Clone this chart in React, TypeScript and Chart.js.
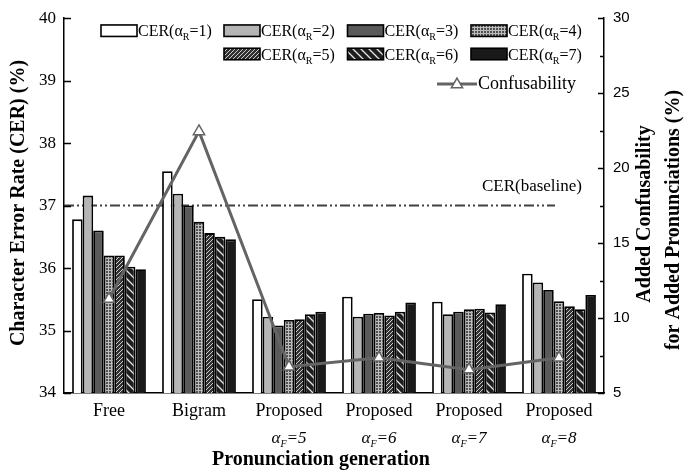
import React, { useEffect, useRef } from 'react';
import { Chart, registerables } from 'chart.js';
Chart.register(...registerables);

// ---------- data ----------
const categories = ['Free', 'Bigram', 'Proposed', 'Proposed', 'Proposed', 'Proposed'];
const alphaF = ['', '', '5', '6', '7', '8'];
const alphaR = ['1', '2', '3', '4', '5', '6', '7'];
const cer1 = [36.78, 37.55, 35.5, 35.54, 35.46, 35.91];
const cer2 = [37.16, 37.19, 35.22, 35.22, 35.26, 35.77];
const cer3 = [36.6, 37.0, 35.08, 35.27, 35.3, 35.65];
const cer4 = [36.2, 36.74, 35.17, 35.28, 35.34, 35.47];
const cer5 = [36.2, 36.56, 35.18, 35.24, 35.35, 35.39];
const cer6 = [36.02, 36.5, 35.26, 35.3, 35.29, 35.34];
const cer7 = [35.98, 36.46, 35.3, 35.45, 35.42, 35.57];
const confusability = [11.27, 22.45, 6.75, 7.35, 6.56, 7.35];
const baselineCER = 37;
const cerMin = 34, cerMax = 40;
const confMin = 5, confMax = 30;

const SERIF = "'Liberation Serif', 'Times New Roman', serif";
const SANS = "'Liberation Sans', Arial, sans-serif";
const LINE_GRAY = '#646464';

function makePattern(kind: string): CanvasPattern | string {
  const c = document.createElement('canvas');
  const g = c.getContext('2d')!;
  if (kind === 'grid') {
    c.width = 3; c.height = 3;
    g.fillStyle = '#505050'; g.fillRect(0, 0, 3, 3);
    g.fillStyle = '#bdbdbd'; g.fillRect(0, 0, 3, 1); g.fillRect(0, 0, 1, 3);
  } else if (kind === 'fwd') {
    const s = 4;
    c.width = s; c.height = s;
    g.fillStyle = '#303030'; g.fillRect(0, 0, s, s);
    g.strokeStyle = '#cfcfcf'; g.lineWidth = 1;
    g.beginPath();
    g.moveTo(-1, s + 1); g.lineTo(s + 1, -1);
    g.moveTo(-1, 1); g.lineTo(1, -1);
    g.moveTo(s - 1, s + 1); g.lineTo(s + 1, s - 1);
    g.stroke();
  } else if (kind === 'back') {
    const s = 8;
    c.width = s; c.height = s;
    g.fillStyle = '#1e1e1e'; g.fillRect(0, 0, s, s);
    g.strokeStyle = '#e6e6e6'; g.lineWidth = 1.3;
    g.beginPath();
    g.moveTo(-1, -1); g.lineTo(s + 1, s + 1);
    g.moveTo(s - 1, -1); g.lineTo(s + 1, 1);
    g.moveTo(-1, s - 1); g.lineTo(1, s + 1);
    g.stroke();
  }
  return g.createPattern(c, 'repeat')!;
}

type Run = { t: string; font: string; dy: number };
function runsWidth(ctx: CanvasRenderingContext2D, runs: Run[]) {
  let w = 0;
  for (const r of runs) { ctx.font = r.font; w += ctx.measureText(r.t).width; }
  return w;
}
function drawRuns(ctx: CanvasRenderingContext2D, x: number, base: number, runs: Run[]) {
  let cx = x;
  ctx.textAlign = 'left';
  ctx.textBaseline = 'alphabetic';
  for (const r of runs) {
    ctx.font = r.font;
    ctx.fillText(r.t, cx, base + r.dy);
    cx += ctx.measureText(r.t).width;
  }
  return cx;
}
function cerRuns(n: string): Run[] {
  const f = `16px ${SERIF}`;
  return [
    { t: 'CER(α', font: f, dy: 0 },
    { t: 'R', font: `10px ${SERIF}`, dy: 4 },
    { t: '=' + n + ')', font: f, dy: 0 },
  ];
}

function triangle(ctx: CanvasRenderingContext2D, x: number, y: number, r: number) {
  ctx.beginPath();
  for (let k = 0; k < 3; k++) {
    const a = (k * 2 * Math.PI) / 3;
    const px = x + Math.sin(a) * r, py = y - Math.cos(a) * r;
    if (k === 0) ctx.moveTo(px, py); else ctx.lineTo(px, py);
  }
  ctx.closePath();
  ctx.fillStyle = '#fff'; ctx.fill();
  ctx.strokeStyle = LINE_GRAY; ctx.lineWidth = 1.5; ctx.stroke();
}

const overlay = {
  id: 'overlay',
  beforeDatasetsDraw(chart: any) {
    const ctx: CanvasRenderingContext2D = chart.ctx;
    const y = chart.scales.y;
    const py = y.getPixelForValue(baselineCER);
    ctx.save();
    ctx.strokeStyle = '#404040';
    ctx.lineWidth = 2;
    ctx.setLineDash([10, 3, 2, 3, 2, 3]);
    ctx.beginPath();
    ctx.moveTo(chart.chartArea.left, py);
    ctx.lineTo(555, py);
    ctx.stroke();
    ctx.restore();
  },
  afterDraw(chart: any) {
    const ctx: CanvasRenderingContext2D = chart.ctx;
    const { y, y2, x } = chart.scales;
    ctx.save();
    ctx.fillStyle = '#000';
    // inward tick marks
    ctx.strokeStyle = '#000';
    ctx.lineWidth = 1.5;
    ctx.beginPath();
    y.ticks.forEach((_t: any, i: number) => {
      const p = Math.round(y.getPixelForTick(i)) + 0.5;
      ctx.moveTo(y.right, p); ctx.lineTo(y.right + 7, p);
    });
    y2.ticks.forEach((t: any, i: number) => {
      const p = Math.round(y2.getPixelForTick(i)) + 0.5;
      ctx.moveTo(y2.left, p); ctx.lineTo(y2.left - 6, p);
      if (i < y2.ticks.length - 1) {
        const m = Math.round(y2.getPixelForValue(t.value + 2.5)) + 0.5;
        ctx.moveTo(y2.left, m); ctx.lineTo(y2.left - 4, m);
      }
    });
    ctx.stroke();

    // second line of x labels
    x.ticks.forEach((_t: any, i: number) => {
      if (!alphaF[i]) return;
      const runs: Run[] = [
        { t: 'α', font: `italic 17px ${SERIF}`, dy: 0 },
        { t: 'F', font: `italic 10px ${SERIF}`, dy: 4 },
        { t: '=' + alphaF[i], font: `italic 17px ${SERIF}`, dy: 0 },
      ];
      const w = runsWidth(ctx, runs);
      drawRuns(ctx, x.getPixelForTick(i) - w / 2, 443, runs);
    });

    // baseline label
    ctx.font = `17px ${SERIF}`;
    ctx.textAlign = 'right';
    ctx.textBaseline = 'middle';
    ctx.fillText('CER(baseline)', 582, 187);

    // axis titles
    ctx.font = `bold 20px ${SERIF}`;
    ctx.textAlign = 'center';
    ctx.textBaseline = 'middle';
    ctx.fillText('Pronunciation generation', 321, 460);
    const vtext = (t: string, cx: number, cy: number) => {
      ctx.save();
      ctx.translate(cx, cy);
      ctx.rotate(-Math.PI / 2);
      ctx.fillText(t, 0, 0);
      ctx.restore();
    };
    vtext('Character Error Rate (CER) (%)', 19, 203);
    vtext('Added Confusability', 645, 214);
    vtext('for Added Pronunciations (%)', 674, 220);

    // legend
    const colX = [101, 224, 347.5, 471];
    const rowC = [30.7, 54];
    const slots = [[0, 0], [0, 1], [0, 2], [0, 3], [1, 1], [1, 2], [1, 3]];
    chart.data.datasets.forEach((ds: any, i: number) => {
      if (i >= 7) return;
      const [r, c] = slots[i];
      const bx = colX[c], cy = rowC[r];
      ctx.fillStyle = ds.backgroundColor;
      ctx.fillRect(bx, cy - 5.75, 36, 11.5);
      ctx.strokeStyle = '#000'; ctx.lineWidth = 1.6;
      ctx.strokeRect(bx, cy - 5.75, 36, 11.5);
      ctx.fillStyle = '#000';
      drawRuns(ctx, bx + 37, cy + 5.5, cerRuns(alphaR[i]));
    });
    // confusability legend
    ctx.strokeStyle = LINE_GRAY; ctx.lineWidth = 3;
    ctx.beginPath(); ctx.moveTo(437, 84); ctx.lineTo(477, 84); ctx.stroke();
    triangle(ctx, 457, 84.5, 6.5);
    ctx.fillStyle = '#000';
    ctx.font = `18px ${SERIF}`;
    ctx.textAlign = 'left';
    ctx.textBaseline = 'middle';
    ctx.fillText('Confusability', 478, 84);
    ctx.restore();
  },
};

export default function App() {
  const ref = useRef<HTMLCanvasElement>(null);
  useEffect(() => {
    const canvas = ref.current!;
    const fills = ['#ffffff', '#b5b5b5', '#5a5a5a', makePattern('grid'), makePattern('fwd'), makePattern('back'), '#1a1a1a'];
    const series = [cer1, cer2, cer3, cer4, cer5, cer6, cer7];
    const barSets = series.map((d, i) => ({
      type: 'bar' as const,
      label: `CER(αR=${alphaR[i]})`,
      data: d,
      yAxisID: 'y',
      backgroundColor: fills[i],
      borderColor: '#000',
      borderWidth: 1.8,
      borderSkipped: false,
      barPercentage: 1,
      categoryPercentage: 0.82,
      order: 1,
    }));
    const chart = new Chart(canvas, {
      type: 'bar',
      data: {
        labels: categories,
        datasets: [
          ...barSets,
          {
            type: 'line' as const,
            label: 'Confusability',
            data: confusability,
            yAxisID: 'y2',
            borderColor: LINE_GRAY,
            borderWidth: 3,
            pointStyle: 'triangle',
            pointRadius: 6.5,
            pointBackgroundColor: '#fff',
            pointBorderColor: LINE_GRAY,
            pointBorderWidth: 1.5,
            tension: 0,
            order: 0,
          } as any,
        ],
      },
      options: {
        responsive: false,
        animation: false,
        layout: { padding: { top: 14, left: 0, right: 0, bottom: 0 } },
        plugins: { legend: { display: false }, tooltip: { enabled: false } },
        scales: {
          x: {
            type: 'category',
            offset: true,
            grid: { display: false, drawTicks: false },
            border: { display: true, color: '#000', width: 1.5 },
            ticks: { color: '#000', font: { family: SERIF, size: 18 }, padding: 7, maxRotation: 0, autoSkip: false },
            afterFit: (s: any) => { s.height = 79; },
          },
          y: {
            position: 'left',
            min: cerMin,
            max: cerMax,
            grid: { display: false, drawTicks: false },
            border: { display: true, color: '#000', width: 1.5 },
            ticks: { stepSize: 1, color: '#000', font: { family: SERIF, size: 17 }, padding: 8 },
            afterFit: (s: any) => { s.width = 64; },
          },
          y2: {
            position: 'right',
            min: confMin,
            max: confMax,
            grid: { display: false, drawTicks: false },
            border: { display: true, color: '#000', width: 1.5 },
            ticks: { stepSize: 5, color: '#000', font: { family: SANS, size: 15 }, padding: 9 },
            afterFit: (s: any) => { s.width = 80; },
          },
        },
      } as any,
      plugins: [overlay],
    });
    return () => chart.destroy();
  }, []);
  return (
    <div style={{ position: 'fixed', left: 0, top: 0, width: 684, height: 472, background: '#fff' }}>
      <canvas ref={ref} width={684} height={472} style={{ display: 'block' }} />
    </div>
  );
}
